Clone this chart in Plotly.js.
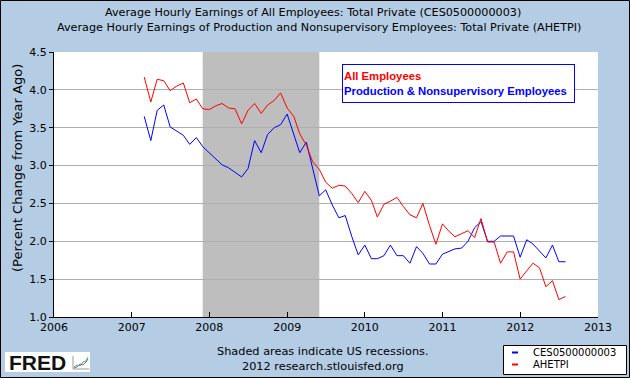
<!DOCTYPE html>
<html>
<head>
<meta charset="utf-8">
<script src="https://cdn.plot.ly/plotly-3.0.1.min.js"></script>
<style>html,body{margin:0;padding:0;background:#B4CDE4;}#chart{width:630px;height:378px;}</style>
</head>
<body>
<div id="chart"></div>
<script>
// ---- data ----
const months = [
 '2007-03','2007-04','2007-05','2007-06','2007-07','2007-08','2007-09','2007-10','2007-11','2007-12',
 '2008-01','2008-02','2008-03','2008-04','2008-05','2008-06','2008-07','2008-08','2008-09','2008-10','2008-11','2008-12',
 '2009-01','2009-02','2009-03','2009-04','2009-05','2009-06','2009-07','2009-08','2009-09','2009-10','2009-11','2009-12',
 '2010-01','2010-02','2010-03','2010-04','2010-05','2010-06','2010-07','2010-08','2010-09','2010-10','2010-11','2010-12',
 '2011-01','2011-02','2011-03','2011-04','2011-05','2011-06','2011-07','2011-08','2011-09','2011-10','2011-11','2011-12',
 '2012-01','2012-02','2012-03','2012-04','2012-05','2012-06','2012-07','2012-08'
];
// CES0500000003 (blue)
const ces = [
 3.65,3.33,3.73,3.80,3.51,3.45,3.40,3.28,3.37,3.25,
 3.17,3.09,3.01,2.97,2.91,2.85,2.96,3.33,3.17,3.41,3.50,3.54,
 3.68,3.41,3.17,3.31,2.95,2.60,2.68,2.48,2.31,2.34,2.06,1.82,
 1.95,1.77,1.77,1.81,1.95,1.81,1.81,1.71,1.93,1.84,1.70,1.70,
 1.83,1.87,1.90,1.91,2.00,2.18,2.26,2.00,2.00,2.07,2.07,2.07,
 1.79,2.02,1.965,1.87,1.78,1.95,1.73,1.73
];
// AHETPI (red)
const ahetpi = [
 4.17,3.84,4.14,4.12,3.99,4.05,4.09,3.83,3.88,3.75,
 3.74,3.79,3.82,3.76,3.75,3.55,3.73,3.82,3.69,3.80,3.86,3.96,
 3.76,3.65,3.42,3.27,3.05,2.95,2.78,2.70,2.74,2.73,2.63,2.51,
 2.66,2.54,2.32,2.49,2.53,2.58,2.46,2.35,2.31,2.50,2.21,1.96,
 2.23,2.13,2.06,2.10,2.14,2.05,2.30,1.99,1.99,1.71,1.86,1.86,
 1.50,1.61,1.71,1.65,1.40,1.48,1.23,1.27
];
const recessionStart = '2007-12-01';
const recessionEnd = '2009-06-01';
const seriesNames = ['CES0500000003', 'AHETPI'];
const titleLines = [
 'Average Hourly Earnings of All Employees: Total Private (CES0500000003)',
 'Average Hourly Earnings of Production and Nonsupervisory Employees: Total Private (AHETPI)'
];
const yTitle = '(Percent Change from Year Ago)';
const noteLines = ['All Employees', 'Production &amp; Nonsupervisory Employees'];
const footerLines = ['Shaded areas indicate US recessions.', '2012 research.stlouisfed.org'];

// ---- layout helpers (pixel -> paper) ----
const W = 630, H = 378, ML = 54, MR = 32, MT = 52, MB = 61;
const PW = W - ML - MR, PH = H - MT - MB;
const xp = X => (X - ML) / PW;
const yp = Y => (H - MB - Y) / PH;
const BLUE = '#0000FF', RED = '#FF0000', BG = '#B4CDE4';
const FONT = 'DejaVu Sans, Verdana, sans-serif';

const traces = [
 {x: months, y: ces, name: seriesNames[0], type: 'scatter', mode: 'lines',
  line: {color: BLUE, width: 1}, hoverinfo: 'skip'},
 {x: months, y: ahetpi, name: seriesNames[1], type: 'scatter', mode: 'lines',
  line: {color: RED, width: 1}, hoverinfo: 'skip'}
];

function pathPx(pts) {
 return pts.map((p, i) => (i ? 'L' : 'M') + xp(p[0]).toFixed(5) + ',' + yp(p[1]).toFixed(5)).join(' ');
}

const shapes = [
 // recession shading
 {type: 'rect', xref: 'x', yref: 'paper', x0: recessionStart, x1: recessionEnd, y0: 0, y1: 1,
  fillcolor: '#BEBEBE', line: {width: 0}, layer: 'between'},
 // outer border
 {type: 'rect', xref: 'paper', yref: 'paper', x0: xp(0.5), x1: xp(629.5), y0: yp(0.5), y1: yp(377.5),
  line: {color: '#000000', width: 1}, fillcolor: 'rgba(0,0,0,0)'},
 // legend box
 {type: 'rect', xref: 'paper', yref: 'paper', x0: xp(503.5), x1: xp(626.5), y0: yp(345.5), y1: yp(374.5),
  line: {color: '#000000', width: 1}, fillcolor: '#FFFFFF'},
 {type: 'line', xref: 'paper', yref: 'paper', x0: xp(512), x1: xp(518), y0: yp(352.5), y1: yp(352.5),
  line: {color: BLUE, width: 2}},
 {type: 'line', xref: 'paper', yref: 'paper', x0: xp(512), x1: xp(518), y0: yp(364.5), y1: yp(364.5),
  line: {color: RED, width: 2}},
 // FRED logo box
 {type: 'rect', xref: 'paper', yref: 'paper', x0: xp(5), x1: xp(90), y0: yp(352), y1: yp(372),
  line: {width: 0}, fillcolor: '#FFFFFF'},
 {type: 'path', xref: 'paper', yref: 'paper', path: pathPx([[73,356],[73,369],[89,369]]),
  line: {color: '#999999', width: 1}},
 {type: 'path', xref: 'paper', yref: 'paper', path: pathPx([[74,367],[77,365],[80,366],[83,362],[86,361],[88,357]]),
  line: {color: '#66AA44', width: 1}},
 {type: 'path', xref: 'paper', yref: 'paper', path: pathPx([[74,368],[77,367],[80,364],[83,365],[86,362],[88,359]]),
  line: {color: '#5577CC', width: 1}}
];

function txt(X, Y, text, size, extra) {
 return Object.assign({xref: 'paper', yref: 'paper', x: xp(X), y: yp(Y), xanchor: 'center', yanchor: 'middle',
  showarrow: false, font: {family: FONT, size: size, color: '#000'}, text: text}, extra || {});
}

const annotations = [
 {xref: 'paper', yref: 'paper', x: xp(342), y: yp(64), xanchor: 'left', yanchor: 'top',
  width: 229, height: 35, align: 'left', valign: 'middle', showarrow: false,
  bgcolor: '#FFFFFF', bordercolor: BLUE, borderwidth: 1, borderpad: 1,
  font: {family: 'Liberation Sans, Arial, sans-serif', size: 11.3},
  text: '<b><span style="color:' + RED + '">' + noteLines[0] + '</span><br><span style="color:' + BLUE + '">' + noteLines[1] + '</span></b>'},
 txt(313, 12.5, titleLines[0], 11.2),
 txt(319, 27.5, titleLines[1], 11.2),
 txt(17, 168, yTitle, 13, {textangle: -90}),
 txt(323, 351.5, footerLines[0], 11.3),
 txt(323, 366.5, footerLines[1], 11.3),
 txt(531, 352.5, seriesNames[0], 10, {xanchor: 'left'}),
 txt(531, 364.5, seriesNames[1], 10, {xanchor: 'left'}),
 txt(7, 362.5, '<b>FRED</b>', 21, {xanchor: 'left', font: {family: 'Liberation Sans, Arial, sans-serif', size: 21, color: '#111'}})
];

const layout = {
 width: W, height: H,
 margin: {l: ML, r: MR, t: MT, b: MB, pad: 0},
 paper_bgcolor: BG, plot_bgcolor: '#FFFFFF',
 showlegend: false,
 xaxis: {type: 'date', range: ['2006-01-01', '2013-01-01'], dtick: 'M12', tickformat: '%Y',
  showgrid: false, showline: true, linecolor: '#000', linewidth: 1,
  ticks: 'inside', ticklen: 5, tickcolor: '#000', tickwidth: 1,
  tickfont: {family: FONT, size: 11, color: '#000'}, zeroline: false, fixedrange: true},
 yaxis: {range: [1, 4.5], dtick: 0.5, tick0: 1, tickformat: '.1f',
  showgrid: true, gridcolor: '#AFAFAF', gridwidth: 1,
  showline: true, linecolor: '#000', linewidth: 1,
  ticks: 'outside', ticklen: 4, tickcolor: '#000', tickwidth: 1,
  tickfont: {family: FONT, size: 11, color: '#000'}, zeroline: false, fixedrange: true},
 shapes: shapes,
 annotations: annotations
};

Plotly.newPlot('chart', traces, layout, {displayModeBar: false, staticPlot: true});
</script>
</body>
</html>
